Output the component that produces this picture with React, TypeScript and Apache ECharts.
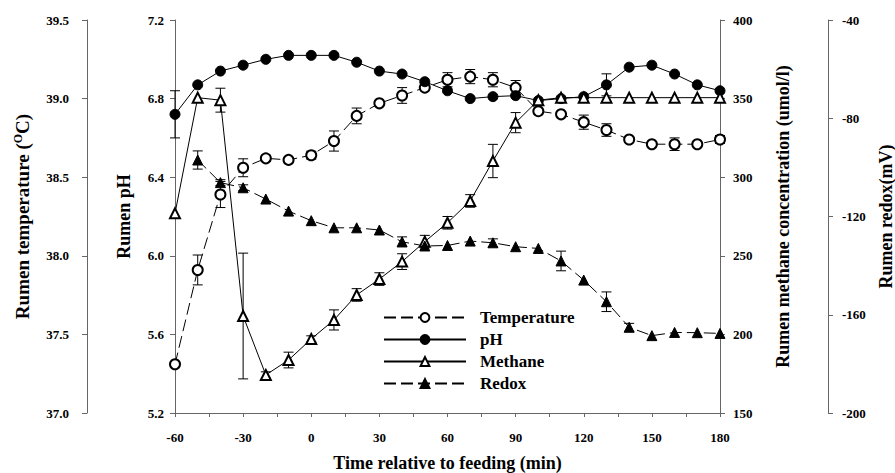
import React, { useEffect, useRef } from "react";
import * as echarts from "echarts";

const times = [-60, -50, -40, -30, -20, -10, 0, 10, 20, 30, 40, 50, 60, 70, 80, 90, 100, 110, 120, 130, 140, 150, 160, 170, 180];
const temperature = [37.31, 37.91, 38.39, 38.56, 38.62, 38.61, 38.64, 38.73, 38.89, 38.97, 39.02, 39.07, 39.12, 39.14, 39.12, 39.07, 38.92, 38.9, 38.85, 38.8, 38.74, 38.71, 38.71, 38.71, 38.74];
const temperatureErr = [0, 0.095, 0.083, 0.057, 0.02, 0, 0.025, 0.064, 0.05, 0, 0.05, 0, 0.045, 0.045, 0.045, 0.045, 0, 0, 0.045, 0.04, 0, 0, 0.04, 0, 0.025];
const ph = [6.72, 6.87, 6.94, 6.97, 7.0, 7.02, 7.02, 7.02, 6.985, 6.94, 6.925, 6.886, 6.84, 6.8, 6.81, 6.815, 6.79, 6.8, 6.81, 6.87, 6.96, 6.97, 6.925, 6.87, 6.84];
const phErr = [0.12, 0, 0, 0, 0, 0, 0, 0, 0, 0, 0, 0, 0, 0, 0, 0, 0, 0, 0, 0.056, 0, 0, 0, 0, 0];
const methane = [277, 350.6, 349, 211.7, 174.2, 183.7, 197.1, 209.2, 225.1, 235.2, 246.3, 259, 271, 284.9, 310.3, 334.7, 349, 350.6, 350.6, 350.6, 350.6, 350.6, 350.6, 350.6, 350.6];
const methaneErr = [0, 0, 7.6, 40, 2, 5, 2, 6.4, 4, 4, 5, 4, 4, 4, 10.6, 6.4, 0, 0, 0, 0, 0, 0, 0, 0, 0];
const redox = [null, -97, -106.2, -108.3, -112.9, -117.8, -121.7, -124.6, -124.6, -125.5, -130.3, -132, -131.8, -130, -130.7, -132.3, -133, -138.1, -145.9, -154.7, -165.1, -168.5, -167.2, -167.3, -167.6];
const redoxErr = [0, 3.7, 1.2, 1.2, 0, 0, 0, 0, 0, 0, 2, 0, 0, 0, 1.6, 0, 0, 4, 0, 4, 1.6, 0, 0, 0, 0];

const xTicks = { min: -60, max: 180, interval: 30 };
const FONT = "'Liberation Serif', 'Times New Roman', serif";
const AXIS_COLOR = "#666";

function pairs(vals: (number | null)[]) {
  return times.map((t, i) => [t, vals[i]]);
}
function errData(vals: (number | null)[], errs: number[]) {
  const out: number[][] = [];
  times.forEach((t, i) => {
    const v = vals[i];
    if (v != null && errs[i] > 0) out.push([t, v - errs[i], v + errs[i]]);
  });
  return out;
}

const errRender = (params: any, api: any) => {
  const x = api.value(0);
  const p1 = api.coord([x, api.value(1)]);
  const p2 = api.coord([x, api.value(2)]);
  const st = { stroke: "#000", lineWidth: 1 };
  return {
    type: "group",
    children: [
      { type: "line", shape: { x1: p1[0], y1: p1[1], x2: p2[0], y2: p2[1] }, style: st },
      { type: "line", shape: { x1: p1[0] - 5, y1: p1[1], x2: p1[0] + 5, y2: p1[1] }, style: st },
      { type: "line", shape: { x1: p2[0] - 5, y1: p2[1], x2: p2[0] + 5, y2: p2[1] }, style: st },
    ],
  };
};

function yAxis(opts: any) {
  return {
    type: "value",
    nameLocation: "middle",
    nameRotate: 90,
    nameTextStyle: { fontFamily: FONT, fontWeight: "bold", fontSize: 18, color: "#000" },
    axisLine: { show: true, onZero: false, lineStyle: { color: AXIS_COLOR, width: 1 } },
    axisTick: { show: true, length: 5, inside: false, lineStyle: { color: AXIS_COLOR } },
    splitLine: { show: false },
    ...opts,
    axisLabel: {
      fontFamily: FONT,
      fontWeight: "bold",
      fontSize: 13,
      color: "#000",
      ...(opts.axisLabel || {}),
    },
  };
}

export default function App() {
  const ref = useRef<HTMLDivElement>(null);
  useEffect(() => {
    if (!ref.current) return;
    const chart = echarts.init(ref.current, null, { renderer: "svg" });
    const common = { type: "line", xAxisIndex: 0, z: 3, lineStyle: { color: "#000", width: 1 }, itemStyle: { color: "#000", borderColor: "#000", borderWidth: 1 } };
    chart.setOption({
      animation: false,
      backgroundColor: "#fff",
      grid: { left: 175, right: 175, top: 20, bottom: 60, containLabel: false, outerBoundsMode: "none" },
      legend: {
        data: ["Temperature", "pH", "Methane", "Redox"],
        orient: "vertical",
        left: 378,
        top: 304,
        itemWidth: 82,
        itemHeight: 11,
        itemGap: 5,
        textStyle: { fontFamily: FONT, fontWeight: "bold", fontSize: 17, color: "#000", padding: [0, 0, 0, 9] },
      },
      xAxis: {
        type: "value",
        ...xTicks,
        name: "Time relative to feeding (min)",
        nameLocation: "middle",
        nameGap: 41,
        nameTextStyle: { fontFamily: FONT, fontWeight: "bold", fontSize: 18, color: "#000" },
        axisLine: { show: true, onZero: false, lineStyle: { color: AXIS_COLOR } },
        axisTick: { show: true, length: 4, lineStyle: { color: AXIS_COLOR } },
        minorTick: { show: true, splitNumber: 2, length: 4, lineStyle: { color: AXIS_COLOR } },
        splitLine: { show: false },
        axisLabel: { fontFamily: FONT, fontWeight: "bold", fontSize: 13, color: "#000", margin: 18 },
      },
      yAxis: [
        yAxis({
          position: "left", offset: 0, min: 5.2, max: 7.2, interval: 0.4,
          name: "Rumen pH", nameGap: 42,
          axisLabel: { margin: 11, formatter: (v: number) => v.toFixed(1) },
        }),
        yAxis({
          position: "left", offset: 88, min: 37, max: 39.5, interval: 0.5,
          name: "Rumen temperature ({s|O}C)", nameGap: 54,
          nameTextStyle: {
            fontFamily: FONT, fontWeight: "bold", fontSize: 19, color: "#000",
            rich: { s: { fontFamily: FONT, fontWeight: "bold", fontSize: 12, color: "#000", padding: [0, 0, 9, 0] } },
          },
          axisLabel: { margin: 18, formatter: (v: number) => v.toFixed(1) },
        }),
        yAxis({
          position: "right", offset: 0, min: 150, max: 400, interval: 50,
          name: "Rumen methane concentration (umol/l)", nameGap: 54,
          axisLabel: { margin: 13 },
        }),
        yAxis({
          position: "right", offset: 108, min: -200, max: -40, interval: 40,
          name: "Rumen redox(mV)", nameGap: 46,
          axisLabel: { margin: 14 },
        }),
      ],
      series: [
        {
          ...common, name: "Temperature", yAxisIndex: 1, data: pairs(temperature),
          symbol: "emptyCircle", symbolSize: 10,
          lineStyle: { color: "#000", width: 1, type: [12, 5] },
        },
        {
          ...common, name: "pH", yAxisIndex: 0, data: pairs(ph),
          symbol: "circle", symbolSize: 10,
        },
        {
          ...common, name: "Methane", yAxisIndex: 2, data: pairs(methane),
          symbol: "emptyTriangle", symbolSize: 10,
        },
        {
          ...common, name: "Redox", yAxisIndex: 3, data: pairs(redox),
          symbol: "triangle", symbolSize: 10,
          lineStyle: { color: "#000", width: 1, type: [12, 5] },
        },
        { type: "custom", xAxisIndex: 0, yAxisIndex: 1, z: 2, renderItem: errRender, data: errData(temperature, temperatureErr) },
        { type: "custom", xAxisIndex: 0, yAxisIndex: 0, z: 2, renderItem: errRender, data: errData(ph, phErr) },
        { type: "custom", xAxisIndex: 0, yAxisIndex: 2, z: 2, renderItem: errRender, data: errData(methane, methaneErr) },
        { type: "custom", xAxisIndex: 0, yAxisIndex: 3, z: 2, renderItem: errRender, data: errData(redox, redoxErr) },
      ],
    });
    return () => chart.dispose();
  }, []);
  return <div ref={ref} style={{ position: "fixed", left: 0, top: 0, width: 895, height: 473 }} />;
}
